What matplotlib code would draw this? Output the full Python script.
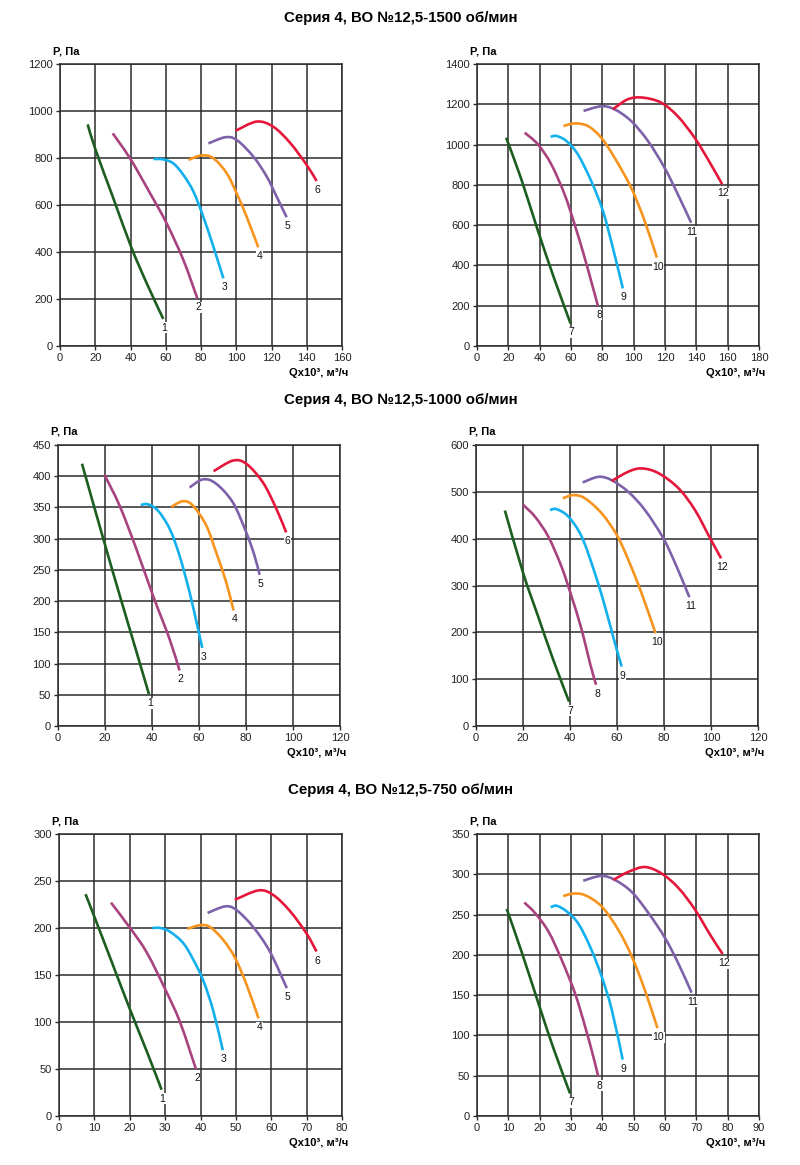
import matplotlib
matplotlib.use("Agg")
import matplotlib.pyplot as plt
from matplotlib.path import Path
from matplotlib.patches import PathPatch
import numpy as np

plt.rcParams['font.family'] = ['Liberation Sans', 'DejaVu Sans']

titles = ["Серия 4, ВО №12,5-1500 об/мин",
          "Серия 4, ВО №12,5-1000 об/мин",
          "Серия 4, ВО №12,5-750 об/мин"]

colors = ["#1b5e20", "#a8437f", "#12b0ec", "#f7941d", "#7e62a9", "#e4173b"]

# ---- 1500 rpm, left (curves 1-6) ----
p1_x = [
    [15.7, 20.2, 30, 40.3, 49.2, 58.6],
    [29.9, 39.7, 51.1, 60.5, 70, 77.9],
    [53, 58.6, 64.3, 70, 75.7, 81.3, 87, 92.7],
    [72.8, 80.4, 87, 94.6, 100.2, 105.9, 112.5],
    [84.2, 93.6, 100.2, 109.7, 117.3, 122.9, 128.6],
    [99.7, 111.6, 121, 130.5, 140, 145.6],
]
p1_y = [
    [943, 834, 634, 423, 267, 115],
    [905, 799, 650, 522, 366, 203],
    [796, 794, 777, 728, 657, 550, 423, 288],
    [792, 811, 799, 735, 650, 550, 420],
    [862, 888, 877, 806, 721, 636, 548],
    [916, 955, 933, 865, 770, 702],
]
p1_lab = ["1", "2", "3", "4", "5", "6"]

# ---- 1500 rpm, right (curves 7-12) ----
p2_x = [
    [18.6, 28.2, 38.9, 49.5, 59.7],
    [30.4, 38.9, 47.4, 55.9, 62.3, 68.7, 74, 77.2],
    [47, 50.6, 57, 64.4, 72.9, 80.4, 86.7, 93.1],
    [55.2, 62.3, 70.8, 79.3, 87.8, 98.4, 107, 114.8],
    [68, 79.3, 87.8, 98.4, 109.1, 119.7, 128.2, 136.7],
    [86.7, 96.3, 105.9, 117.6, 128.2, 138.9, 147.4, 156.5],
]
p2_y = [
    [1034, 830, 572, 330, 112],
    [1059, 1001, 902, 753, 604, 439, 290, 199],
    [1038, 1043, 1018, 951, 819, 670, 488, 286],
    [1092, 1105, 1092, 1034, 935, 786, 621, 439],
    [1167, 1190, 1175, 1117, 1018, 885, 753, 612],
    [1175, 1225, 1233, 1208, 1140, 1034, 927, 803],
]
p2_lab = ["7", "8", "9", "10", "11", "12"]

# ---- 1000 rpm, left ----
p3_x = [
    [10.2, 19.1, 26.2, 33.3, 38.7],
    [19.8, 26.2, 33.3, 40.4, 47.5, 51.7],
    [35.2, 38.3, 42.5, 47.5, 51.7, 56, 59.6, 61.4],
    [48.2, 53.2, 57.4, 63.1, 67.3, 71.6, 74.7],
    [56, 61.7, 67.3, 74.4, 80.1, 83.6, 85.8],
    [66.2, 74.4, 80.1, 87.2, 92.9, 97.1],
]
p3_y = [
    [420, 302, 210, 120, 51],
    [402, 353, 284, 209, 139, 89],
    [354, 355, 345, 316, 273, 214, 155, 125],
    [351, 360, 353, 321, 278, 230, 185],
    [382, 395, 388, 358, 310, 273, 242],
    [408, 425, 420, 390, 348, 310],
]
p3_lab = ["1", "2", "3", "4", "5", "6"]

# ---- 1000 rpm, right ----
p4_x = [
    [12.3, 20.1, 26.5, 32.9, 39.6],
    [20.1, 25.1, 30.8, 36.4, 40.7, 45, 48.5, 51.1],
    [31.5, 34.3, 39.3, 45, 50.6, 54.9, 59.1, 62],
    [36.9, 41.4, 46.4, 53.5, 59.9, 64.8, 70.5, 76.4],
    [45.4, 52.1, 57.7, 64.8, 71.9, 79.7, 85.4, 90.8],
    [57.7, 64.8, 70.5, 77.6, 86.1, 93.2, 99.6, 104.3],
]
p4_y = [
    [460, 326, 233, 141, 52],
    [472, 447, 404, 340, 276, 205, 134, 88],
    [461, 463, 447, 404, 326, 255, 177, 127],
    [486, 493, 486, 454, 408, 355, 283, 198],
    [520, 532, 525, 500, 461, 401, 340, 275],
    [523, 543, 550, 540, 508, 461, 401, 358],
]
p4_lab = ["7", "8", "9", "10", "11", "12"]

# ---- 750 rpm, left ----
p5_x = [
    [7.5, 10, 15, 20, 25, 29],
    [14.7, 20.1, 24.8, 30, 34.2, 38.7],
    [26.4, 28.6, 31.4, 35.1, 38, 40.8, 43.6, 46.3],
    [36.3, 39.9, 42.7, 46.5, 49.8, 53.1, 56.4],
    [42, 47, 50.2, 54.9, 59.6, 64.4],
    [49.7, 56.4, 60.6, 65.3, 70, 72.8],
]
p5_y = [
    [236, 212, 163, 114, 67, 28],
    [227, 200, 174, 135, 100, 50],
    [200, 200, 196, 184, 166, 144, 112, 70],
    [199, 203, 201, 187, 168, 139, 104],
    [216, 223, 219, 201, 175, 136],
    [230, 240, 235, 218, 194, 175],
]
p5_lab = ["1", "2", "3", "4", "5", "6"]

# ---- 750 rpm, right ----
p6_x = [
    [9.5, 14.3, 19.6, 24.4, 29.7],
    [15.1, 18.5, 22.8, 27, 31.3, 34.5, 37.1, 38.7],
    [23.5, 25.4, 28.6, 32.3, 36.1, 39.8, 43, 46.5],
    [27.5, 30.7, 34.5, 39.8, 45.1, 49.4, 53.6, 57.6],
    [33.9, 39.6, 44, 49.4, 54.7, 60, 64.3, 68.5],
    [43.5, 48.3, 53.6, 58.9, 64.3, 69.6, 74.4, 78.4],
]
p6_y = [
    [257, 203, 140, 84, 28],
    [265, 252, 229, 194, 152, 111, 74, 49],
    [259, 261, 254, 239, 210, 173, 132, 70],
    [273, 276, 274, 260, 231, 198, 156, 109],
    [292, 298, 293, 278, 252, 221, 189, 153],
    [293, 303, 309, 301, 283, 256, 225, 201],
]
p6_lab = ["7", "8", "9", "10", "11", "12"]

panels = [
    dict(xs=p1_x, ys=p1_y, labs=p1_lab, xmax=160, xstep=20, ymax=1200, ystep=200),
    dict(xs=p2_x, ys=p2_y, labs=p2_lab, xmax=180, xstep=20, ymax=1400, ystep=200),
    dict(xs=p3_x, ys=p3_y, labs=p3_lab, xmax=120, xstep=20, ymax=450, ystep=50),
    dict(xs=p4_x, ys=p4_y, labs=p4_lab, xmax=120, xstep=20, ymax=600, ystep=100),
    dict(xs=p5_x, ys=p5_y, labs=p5_lab, xmax=80, xstep=10, ymax=300, ystep=50),
    dict(xs=p6_x, ys=p6_y, labs=p6_lab, xmax=90, xstep=10, ymax=350, ystep=50),
]


def smooth_path(xs, ys, sx, sy):
    """Bezier path through the read points (Catmull-Rom tangents,
    computed in normalised axes units)."""
    px = np.asarray(xs, float) / sx
    py = np.asarray(ys, float) / sy
    n = len(px)
    verts = [(px[0], py[0])]
    codes = [Path.MOVETO]
    for i in range(n - 1):
        i0 = max(i - 1, 0)
        i3 = min(i + 2, n - 1)
        c1 = (px[i] + (px[i + 1] - px[i0]) / 6, py[i] + (py[i + 1] - py[i0]) / 6)
        c2 = (px[i + 1] - (px[i3] - px[i]) / 6, py[i + 1] - (py[i3] - py[i]) / 6)
        verts += [c1, c2, (px[i + 1], py[i + 1])]
        codes += [Path.CURVE4] * 3
    verts = [(vx * sx, vy * sy) for vx, vy in verts]
    return Path(verts, codes)


W, H = 800, 1165
fig = plt.figure(figsize=(W / 100, H / 100), dpi=100)

boxes = [
    (60, 64, 342, 346), (477, 64, 759, 346),
    (58, 445, 340, 726), (476, 445, 758, 726),
    (59, 834, 342, 1116), (477, 834, 759, 1116),
]
title_y = [18, 400, 790]

for i, t in enumerate(titles):
    fig.text(0.501, 1 - title_y[i] / H, t, ha='center', va='center',
             fontsize=10.8, fontweight='bold')

gridc = "#2b2b2b"
for p, (l, t, r, b) in zip(panels, boxes):
    ax = fig.add_axes([l / W, 1 - b / H, (r - l) / W, (b - t) / H])
    ax.set_xlim(0, p['xmax'])
    ax.set_ylim(0, p['ymax'])
    ax.set_xticks(range(0, p['xmax'] + 1, p['xstep']))
    ax.set_yticks(range(0, p['ymax'] + 1, p['ystep']))
    ax.grid(True, color=gridc, linewidth=1.1)
    ax.set_axisbelow(True)
    for s in ax.spines.values():
        s.set_color(gridc)
        s.set_linewidth(1.1)
    ax.tick_params(direction='out', length=3, width=1, colors=gridc,
                   labelsize=8, labelcolor='#222222', pad=2)
    for xs, ys, lab, c in zip(p['xs'], p['ys'], p['labs'], colors):
        path = smooth_path(xs, ys, p['xmax'], p['ymax'])
        ax.add_patch(PathPatch(path, fc='none', ec=c, lw=1.9,
                               capstyle='butt', joinstyle='round', zorder=3))
        ax.annotate(lab, (xs[-1], ys[-1]), xytext=(1, -9),
                    textcoords='offset pixels', ha='center', va='center',
                    fontsize=7.5, color='#111111', zorder=4,
                    bbox=dict(boxstyle='square,pad=0.05', fc='white', ec='none'))
    ax.text(-7 / (r - l), 1 + 13 / (b - t), "P, Па", transform=ax.transAxes,
            ha='left', va='center', fontsize=8, fontweight='bold')
    ax.text(1 + 6 / (r - l), -27 / (b - t), "Qx10³, м³/ч", transform=ax.transAxes,
            ha='right', va='center', fontsize=8, fontweight='bold')

fig.savefig("out.png", dpi=100)
